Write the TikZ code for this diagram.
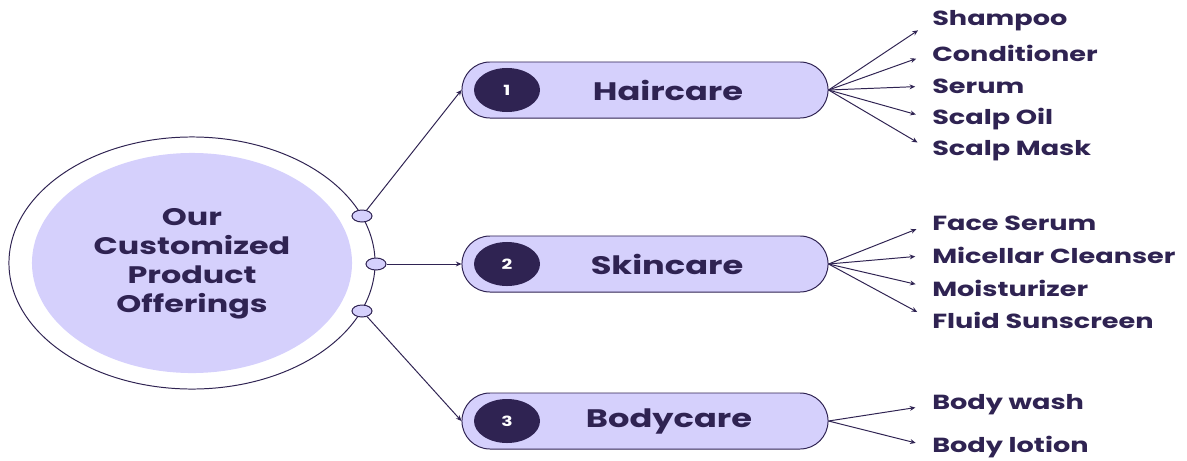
\documentclass[tikz,border=0pt]{standalone}
\usepackage{fontspec}
\setmainfont{Poppins}[FakeStretch=1.33]
\usepackage{xcolor}
\usepackage{tikz}
\usetikzlibrary{shapes,positioning,calc,arrows.meta}

\definecolor{lilac}{HTML}{D5D0FC}
\definecolor{plum}{HTML}{2F2352}

\tikzset{
    pill/.style={draw=plum, fill=lilac, line width=0.7pt, rounded corners=0.7cm,
        minimum width=9.15cm, minimum height=1.4cm},
    badge/.style={ellipse, fill=plum, text=white, minimum width=1.65cm,
        minimum height=1.1cm, font=\bfseries\fontsize{10}{12}\selectfont},
    pilltext/.style={text=plum, font=\bfseries\fontsize{18}{22}\selectfont},
    knob/.style={ellipse, draw=plum, fill=lilac, line width=0.7pt,
        minimum width=0.5cm, minimum height=0.3cm, inner sep=0pt},
    leaf/.style={anchor=west, inner sep=0pt, text=plum,
        font=\bfseries\fontsize{14.5}{17}\selectfont},
    link/.style={draw=plum, line width=0.7pt, -{Stealth[length=4pt,width=3.5pt]}}
}

\begin{document}
\begin{tikzpicture}[x=0.025cm, y=-0.025cm]
    \useasboundingbox (0,0) rectangle (1187,460);

    % Hub
    \node[ellipse, draw=plum, line width=0.7pt, minimum width=9.15cm, minimum height=6.3cm] (outer) at (192,263) {};
    \node[ellipse, fill=lilac, minimum width=8cm, minimum height=5.5cm] (inner) at (192,263) {};
    \node[text=plum, align=center, font=\bfseries\fontsize{17}{20.6}\selectfont] (title) at (192,264)
        {Our\\Customized\\Product\\Offerings};
    \node[knob] (k1) at (362,216) {};
    \node[knob] (k2) at (376,264) {};
    \node[knob] (k3) at (362,311) {};

    % Categories
    \node[pill] (hair) at (645,90) {};
    \node[badge] (n1) at (507,90) {1};
    \node[pilltext] (hairlbl) at (668,90) {Haircare};

    \node[pill] (skin) at (645,264) {};
    \node[badge] (n2) at (507,264) {2};
    \node[pilltext] (skinlbl) at (667,264) {Skincare};

    \node[pill] (body) at (645,421) {};
    \node[badge] (n3) at (507,421) {3};
    \node[pilltext] (bodylbl) at (669,421) {Bodycare};

    \draw[link] (k1) -- (hair.west);
    \draw[link] (k2) -- (skin.west);
    \draw[link] (k3) -- (body.west);

    % Products
    \foreach \y/\txt [count=\i] in {21/Shampoo, 53/Conditioner, 86/Serum, 119/Scalp Oil, 151/Scalp Mask} {
        \node[leaf] (h\i) at (932,\y) {\txt};
        \draw[link, shorten >=0.42cm] (hair.east) -- (h\i.west);
    }
    \foreach \y/\txt [count=\i] in {223/Face Serum, 255/Micellar Cleanser, 288/Moisturizer, 320/Fluid Sunscreen} {
        \node[leaf] (s\i) at (932,\y) {\txt};
        \draw[link, shorten >=0.42cm] (skin.east) -- (s\i.west);
    }
    \foreach \y/\txt [count=\i] in {405/Body wash, 447/Body lotion} {
        \node[leaf] (b\i) at (932,\y) {\txt};
        \draw[link, shorten >=0.42cm] (body.east) -- (b\i.west);
    }
\end{tikzpicture}
\end{document}
